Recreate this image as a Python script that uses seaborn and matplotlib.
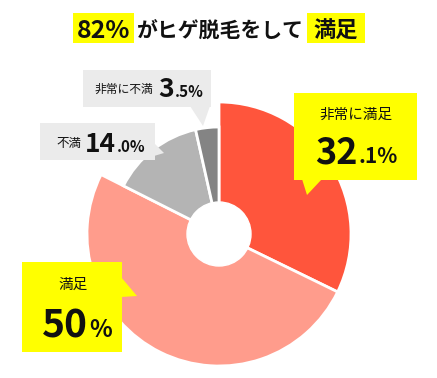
import matplotlib
matplotlib.use("Agg")
import matplotlib.pyplot as plt
import seaborn as sns
from matplotlib.patches import Rectangle, Polygon, Circle

# data (clockwise from 12 o'clock)
labels = ["非常に満足", "満足", "不満", "非常に不満"]
shares = [32.1, 50.0, 14.0, 3.5]
decimals = [1, 0, 1, 1]
title_parts = ["82%", "がヒゲ脱毛をして", "満足"]

sns.set_style("white")
plt.rcParams["font.family"] = ["Noto Sans CJK JP", "DejaVu Sans"]

colors = sns.color_palette(["#FF553C", "#FF9C8C", "#B4B4B4", "#848484"])

W, H = 437, 378


def Y(y):
    # pixel row -> data y
    return H - y


fig = plt.figure(figsize=(W / 100, H / 100), dpi=100)
ax = fig.add_axes([0, 0, 1, 1])
ax.axis("off")

cx, cy = 219, 234
wedges, _ = ax.pie(shares, colors=colors, startangle=90, counterclock=False,
                   center=(cx, Y(cy)), radius=132,
                   wedgeprops=dict(edgecolor="white", linewidth=2))
# dissatisfied slices are drawn smaller
for w in wedges[2:]:
    w.set_radius(107)
ax.add_patch(Circle((cx, Y(cy)), 32, color="white", zorder=5))
ax.set_xlim(0, W)
ax.set_ylim(0, H)
ax.set_aspect("auto")

# callouts: box (x0, y0, x1, y1), tail, label pos, number split x, baseline, sizes
layout = {
    0: dict(box=(294, 93, 417, 180), tail=[(302, 179), (322, 179), (307, 195)],
            fc="#FFFF00", lab=(356, 115), lfs=10.5, split=358, base=163, big=26, small=15),
    1: dict(box=(22, 262, 122, 352), tail=[(121, 277), (121, 297), (137, 296)],
            fc="#FFFF00", lab=(73, 285), lfs=10.5, split=88, base=337, big=28, small=17),
    2: dict(box=(40, 123, 155, 160), tail=[(154, 143), (154, 156), (164, 153)],
            fc="#EBEBEB", lab=(69, 143), lfs=9, split=116, base=152, big=19, small=11),
    3: dict(box=(83, 70, 211, 107), tail=[(190, 106), (210, 106), (203, 126)],
            fc="#EBEBEB", lab=(124, 89), lfs=8.5, split=174, base=97, big=19, small=11),
}

for i, (lab, v, d) in enumerate(zip(labels, shares, decimals)):
    L = layout[i]
    x0, y0, x1, y1 = L["box"]
    ax.add_patch(Rectangle((x0, Y(y1)), x1 - x0, y1 - y0, color=L["fc"], lw=0, zorder=6))
    ax.add_patch(Polygon([(px, Y(py)) for px, py in L["tail"]], closed=True,
                         color=L["fc"], lw=0, zorder=6))
    ax.text(L["lab"][0], Y(L["lab"][1]), lab, fontsize=L["lfs"], ha="center",
            va="center", color="#111111", zorder=7)
    big, _, frac = f"{v:.{d}f}".partition(".")
    small = ("." + frac if frac else "") + "%"
    ax.text(L["split"], Y(L["base"]), big, fontsize=L["big"], ha="right",
            va="baseline", color="#111111", fontweight="bold", zorder=7)
    ax.text(L["split"] + 1, Y(L["base"]), small, fontsize=L["small"], ha="left",
            va="baseline", color="#111111", fontweight="bold", zorder=7)

# title with yellow highlights
for (x0, x1) in [(73, 134), (307, 365)]:
    ax.add_patch(Rectangle((x0, Y(43)), x1 - x0, 30, color="#FFFF00", lw=0))
ax.text(103.5, Y(38), title_parts[0], fontsize=18, fontweight="bold",
        ha="center", va="baseline", color="#111111")
ax.text(220, Y(38), title_parts[1], fontsize=15, fontweight="bold",
        ha="center", va="baseline", color="#111111")
ax.text(336, Y(38), title_parts[2], fontsize=16, fontweight="bold",
        ha="center", va="baseline", color="#111111")

fig.savefig("out.png", dpi=100, facecolor="white")
